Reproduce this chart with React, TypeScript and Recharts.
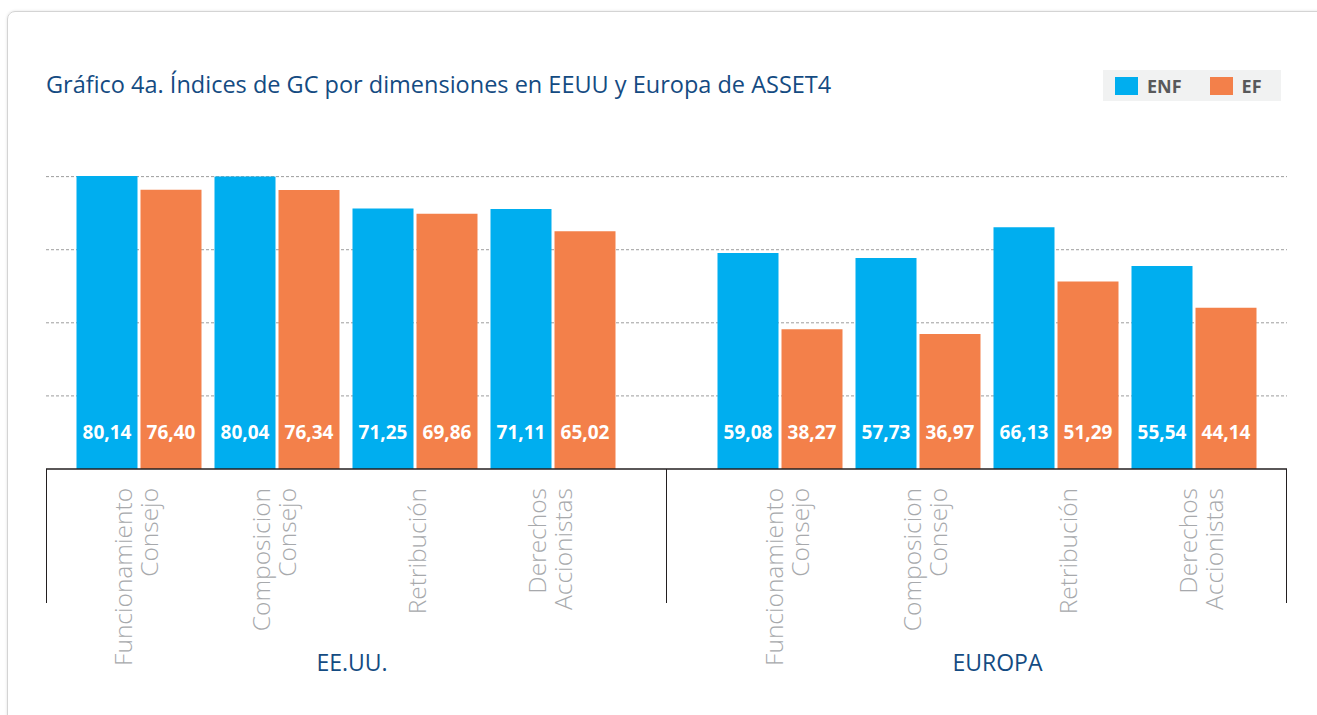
import React from 'react';
import { BarChart, Bar, XAxis, YAxis, CartesianGrid, LabelList } from 'recharts';

const categories = ['Funcionamiento\nConsejo', 'Composicion\nConsejo', 'Retribución', 'Derechos\nAccionistas'];
const groupNames = ['EE.UU.', 'EUROPA'];
const enfUS = [80.14, 80.04, 71.25, 71.11];
const efUS = [76.4, 76.34, 69.86, 65.02];
const enfEU = [59.08, 57.73, 66.13, 55.54];
const efEU = [38.27, 36.97, 51.29, 44.14];
const yTicks = [20, 40, 60, 80];
const seriesNames = ['ENF', 'EF'];
const seriesColors = ['#00aeef', '#f3804a'];

const FONT = '"Open Sans", "DejaVu Sans", sans-serif';
const DARK_BLUE = '#144b82';

const fmt = (v: number) => Number(v).toFixed(2).replace('.', ',');

function CategoryTick({ x, y, payload, shift }: any) {
  const lines = String(payload.value).split('\n');
  const first = lines.length > 1 ? shift : shift + 18;
  return (
    <g transform={`translate(${x},${y})`}>
      <text transform="rotate(-90)" textAnchor="end" fill="#a7a9ac" fontSize={24.5} fontWeight={300} fontFamily={FONT}>
        {lines.map((line, i) => (
          <tspan key={i} x={-19} y={first + i * 26}>
            {line}
          </tspan>
        ))}
      </text>
    </g>
  );
}

function ValueLabel(props: any) {
  const { x, y, width, height, value } = props;
  return (
    <text
      x={Number(x) + Number(width) / 2}
      y={Number(y) + Number(height) - 30}
      textAnchor="middle"
      fill="#ffffff"
      fontSize={19}
      fontWeight={700}
      fontFamily={FONT}
    >
      {fmt(value)}
    </text>
  );
}

interface GroupProps {
  name: string;
  enf: number[];
  ef: number[];
  left: number;
  width: number;
  padLeft: number;
  padRight: number;
  tickShift: number;
  labelDx: number;
}

function GroupChart({ name, enf, ef, left, width, padLeft, padRight, tickShift, labelDx }: GroupProps) {
  const data = categories.map((c, i) => ({ category: c, ENF: enf[i], EF: ef[i] }));
  return (
    <div style={{ position: 'absolute', left, top: 0 }}>
      <BarChart
        width={width}
        height={715}
        data={data}
        margin={{ top: 162, right: 0, bottom: 0, left: 0 }}
        barSize={61}
        barGap={3}
      >
        <CartesianGrid vertical={false} horizontalValues={yTicks} stroke="#9d9d9d" strokeDasharray="3 2" />
        <YAxis hide domain={[0, 84]} ticks={yTicks} />
        <XAxis
          dataKey="category"
          height={246}
          interval={0}
          tickLine={false}
          tickSize={0}
          tickMargin={0}
          padding={{ left: padLeft, right: padRight }}
          axisLine={{ stroke: '#231f20', strokeWidth: 1.5 }}
          tick={<CategoryTick shift={tickShift} />}
          label={{
            value: name,
            position: 'insideBottom',
            offset: 44,
            dx: labelDx,
            fill: DARK_BLUE,
            fontSize: 23,
            fontFamily: FONT,
          }}
        />
        <Bar dataKey="ENF" fill={seriesColors[0]} isAnimationActive={false}>
          <LabelList dataKey="ENF" content={<ValueLabel />} />
        </Bar>
        <Bar dataKey="EF" fill={seriesColors[1]} isAnimationActive={false}>
          <LabelList dataKey="EF" content={<ValueLabel />} />
        </Bar>
      </BarChart>
    </div>
  );
}

export default function App() {
  return (
    <div style={{ position: 'absolute', left: 0, top: 0, width: 1317, height: 715, overflow: 'hidden', background: '#fff', fontFamily: FONT }}>
      {/* card */}
      <div
        style={{
          position: 'absolute',
          left: 7,
          top: 11,
          width: 1340,
          height: 740,
          border: '1px solid #d4d4d4',
          borderRadius: 8,
          boxShadow: '0 0 3px rgba(0,0,0,0.12)',
          boxSizing: 'border-box',
        }}
      />
      <div style={{ position: 'absolute', left: 46, top: 72.5, fontSize: 23.5, lineHeight: '23.5px', color: DARK_BLUE, whiteSpace: 'nowrap' }}>
        Gráfico 4a. Índices de GC por dimensiones en EEUU y Europa de ASSET4
      </div>

      {/* legend */}
      <div style={{ position: 'absolute', left: 1103, top: 70, width: 178, height: 31, background: '#f1f2f2', display: 'flex', alignItems: 'center' }}>
        {seriesNames.map((s, i) => (
          <div key={s} style={{ display: 'flex', alignItems: 'center', marginLeft: i === 0 ? 12 : 28 }}>
            <div style={{ width: 23, height: 18, background: seriesColors[i] }} />
            <span style={{ marginLeft: 9, fontSize: 18, fontWeight: 700, color: '#58595b', lineHeight: '18px' }}>{s}</span>
          </div>
        ))}
      </div>

      <GroupChart name={groupNames[0]} enf={enfUS} ef={efUS} left={46} width={620} padLeft={23.5} padRight={44.5} tickShift={-6.5} labelDx={-4} />
      <GroupChart name={groupNames[1]} enf={enfEU} ef={efEU} left={666} width={621} padLeft={44.5} padRight={24.5} tickShift={3.5} labelDx={21} />

      {/* group separators */}
      {[45.5, 665.5, 1285.5].map((x) => (
        <div key={x} style={{ position: 'absolute', left: x, top: 469, width: 1.5, height: 134, background: '#231f20' }} />
      ))}
    </div>
  );
}
